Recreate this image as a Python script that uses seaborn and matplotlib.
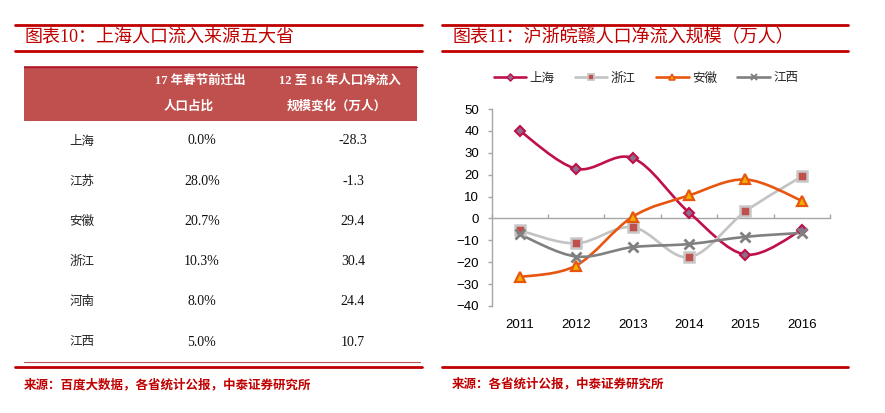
import numpy as np
import pandas as pd
import seaborn as sns
import matplotlib.pyplot as plt
from matplotlib.path import Path
from matplotlib.patches import PathPatch, Rectangle
from matplotlib.lines import Line2D

sns.set_theme(style='white')
plt.rcParams['font.family'] = ['Liberation Sans', 'Noto Sans CJK SC']

# left table: 上海人口流入来源五大省
provinces = ['上海', '江苏', '安徽', '浙江', '河南', '江西']
share_2017 = ['0.0%', '28.0%', '20.7%', '10.3%', '8.0%', '5.0%']
net_change = ['-28.3', '-1.3', '29.4', '30.4', '24.4', '10.7']

# right chart: 沪浙皖赣人口净流入规模（万人）
years = ['2011', '2012', '2013', '2014', '2015', '2016']
shanghai = [40.0, 22.7, 27.6, 2.7, -16.5, -5.3]
zhejiang = [-5.5, -11.4, -4.0, -17.7, 3.2, 19.2]
anhui = [-26.8, -21.5, 0.8, 10.5, 17.8, 8.1]
jiangxi = [-7.3, -17.4, -13.1, -11.7, -8.4, -6.6]

RED = '#C00000'
CJK = ['Noto Sans CJK SC', 'DejaVu Sans']
SERIF_CJK = ['Liberation Serif', 'Noto Sans CJK SC']

W, H = 885, 413
fig = plt.figure(figsize=(W / 100, H / 100), dpi=100)

# background layer in pixel coordinates
bg = fig.add_axes([0, 0, 1, 1])
bg.set_xlim(0, W)
bg.set_ylim(H, 0)
bg.axis('off')

# title bars
for x0, x1 in [(15, 422), (442, 848)]:
    bg.plot([x0, x1], [25, 25], color=RED, lw=2)
    bg.plot([x0, x1], [51, 51], color=RED, lw=2)
    bg.plot([x0, x1], [367, 367], color=RED, lw=2)

bg.text(25, 38, '图表10：上海人口流入来源五大省', color=RED, fontsize=13,
        family=SERIF_CJK, va='center', ha='left')
bg.text(453, 38, '图表11：沪浙皖赣人口净流入规模（万人）', color=RED, fontsize=13,
        family=SERIF_CJK, va='center', ha='left')
bg.text(24, 385, '来源：百度大数据，各省统计公报，中泰证券研究所', color=RED,
        fontsize=9, family=CJK, fontweight='bold', va='center', ha='left')
bg.text(452, 384, '来源：各省统计公报，中泰证券研究所', color=RED,
        fontsize=9, family=CJK, fontweight='bold', va='center', ha='left')

# table header
bg.add_patch(Rectangle((24, 66), 393, 55, color='#C0504D', lw=0))
bg.plot([24, 417], [66.5, 66.5], color='#B0102A', lw=1)
hdr = dict(color='white', fontsize=9, family=SERIF_CJK, fontweight='bold',
           va='center', ha='center')
bg.text(200, 81, '17 年春节前迁出', **hdr)
bg.text(189, 107, '人口占比', **hdr)
bg.text(340, 81, '12 至 16 年人口净流入', **hdr)
bg.text(337, 107, '规模变化（万人）', **hdr)

# table rows
row_y = np.linspace(141, 342, len(provinces))
for y, name, s, n in zip(row_y, provinces, share_2017, net_change):
    bg.text(82, y, name, fontsize=9, family=CJK, color='#222222',
            va='center', ha='center')
    bg.text(202, y, s, fontsize=10, family='Liberation Serif', color='#111111',
            va='center', ha='center')
    bg.text(353, y, n, fontsize=10, family='Liberation Serif', color='#111111',
            va='center', ha='center')
bg.plot([24, 420], [362, 362], color='#C0504D', lw=0.8)

# line chart
ax = fig.add_axes([491.7 / W, 1 - 306 / H, 338.3 / W, 197 / H])
ax.patch.set_alpha(0)


def smooth_path(xs, ys):
    pts = np.column_stack([xs, ys]).astype(float)
    n = len(pts)
    verts, codes = [pts[0]], [Path.MOVETO]
    for i in range(n - 1):
        p0, p1 = pts[max(i - 1, 0)], pts[i]
        p2, p3 = pts[i + 1], pts[min(i + 2, n - 1)]
        verts += [p1 + (p2 - p0) / 6, p2 - (p3 - p1) / 6, p2]
        codes += [Path.CURVE4] * 3
    return Path(verts, codes)


series = [
    ('上海', shanghai, '#C0104A', 'D', '#8C6F8E', '#C0104A', 5.5, 1.5),
    ('浙江', zhejiang, '#C3C3C3', 's', '#C0504D', '#C8C8C8', 6.5, 1.8),
    ('安徽', anhui, '#E8550F', '^', '#F0B000', '#E8550F', 7, 1.6),
    ('江西', jiangxi, '#808080', 'x', '#808080', '#808080', 6.5, 2.0),
]

xpos = np.arange(len(years))
handles = []
for k, (name, vals, col, mk, fc, ec, ms, mew) in enumerate(series):
    ax.add_patch(PathPatch(smooth_path(xpos, vals), fill=False, edgecolor=col,
                           lw=1.9, zorder=3 + k))
    df = pd.DataFrame({'x': xpos, 'y': vals})
    sns.lineplot(data=df, x='x', y='y', ax=ax, linestyle='', marker=mk,
                 markersize=ms, markerfacecolor=fc, markeredgecolor=ec,
                 markeredgewidth=mew, zorder=10 + k)
    handles.append(Line2D([], [], color=col, lw=1.9, marker=mk, markersize=ms * 0.65,
                          markerfacecolor=fc, markeredgecolor=ec, markeredgewidth=mew * 0.7,
                          label=name))

ax.set_xlim(-0.5, len(years) - 0.5)
ax.set_ylim(-40, 50)
ax.set_yticks(range(-40, 51, 10))
ax.set_xticks(xpos, years)
ax.set_xlabel('')
ax.set_ylabel('')
for s in ['top', 'right', 'bottom']:
    ax.spines[s].set_visible(False)
ax.spines['left'].set_color('#A6A6A6')
ax.spines['left'].set_linewidth(1)
ax.tick_params(axis='y', direction='out', length=3, color='#A6A6A6', width=1,
               labelsize=9.5, pad=6, left=True)
ax.tick_params(axis='x', length=0, labelsize=9.5, pad=9)
for lab in ax.get_xticklabels() + ax.get_yticklabels():
    lab.set_color('black')

# zero axis with category boundary ticks
sec = ax.secondary_xaxis(40 / 90)
sec.set_xticks(np.arange(-0.5, len(years), 1.0))
sec.tick_params(axis='x', direction='in', length=3, color='#A6A6A6', width=1,
                labelbottom=False, bottom=True)
sec.spines['bottom'].set_color('#A6A6A6')
sec.spines['bottom'].set_linewidth(1)

fig.legend(handles=handles, loc='center', bbox_to_anchor=(646 / W, 1 - 78 / H),
           ncol=4, frameon=False, handlelength=2.6, columnspacing=1.6,
           handletextpad=0.3, prop={'family': CJK, 'size': 9})

fig.savefig('out.png', dpi=100, facecolor='white')
